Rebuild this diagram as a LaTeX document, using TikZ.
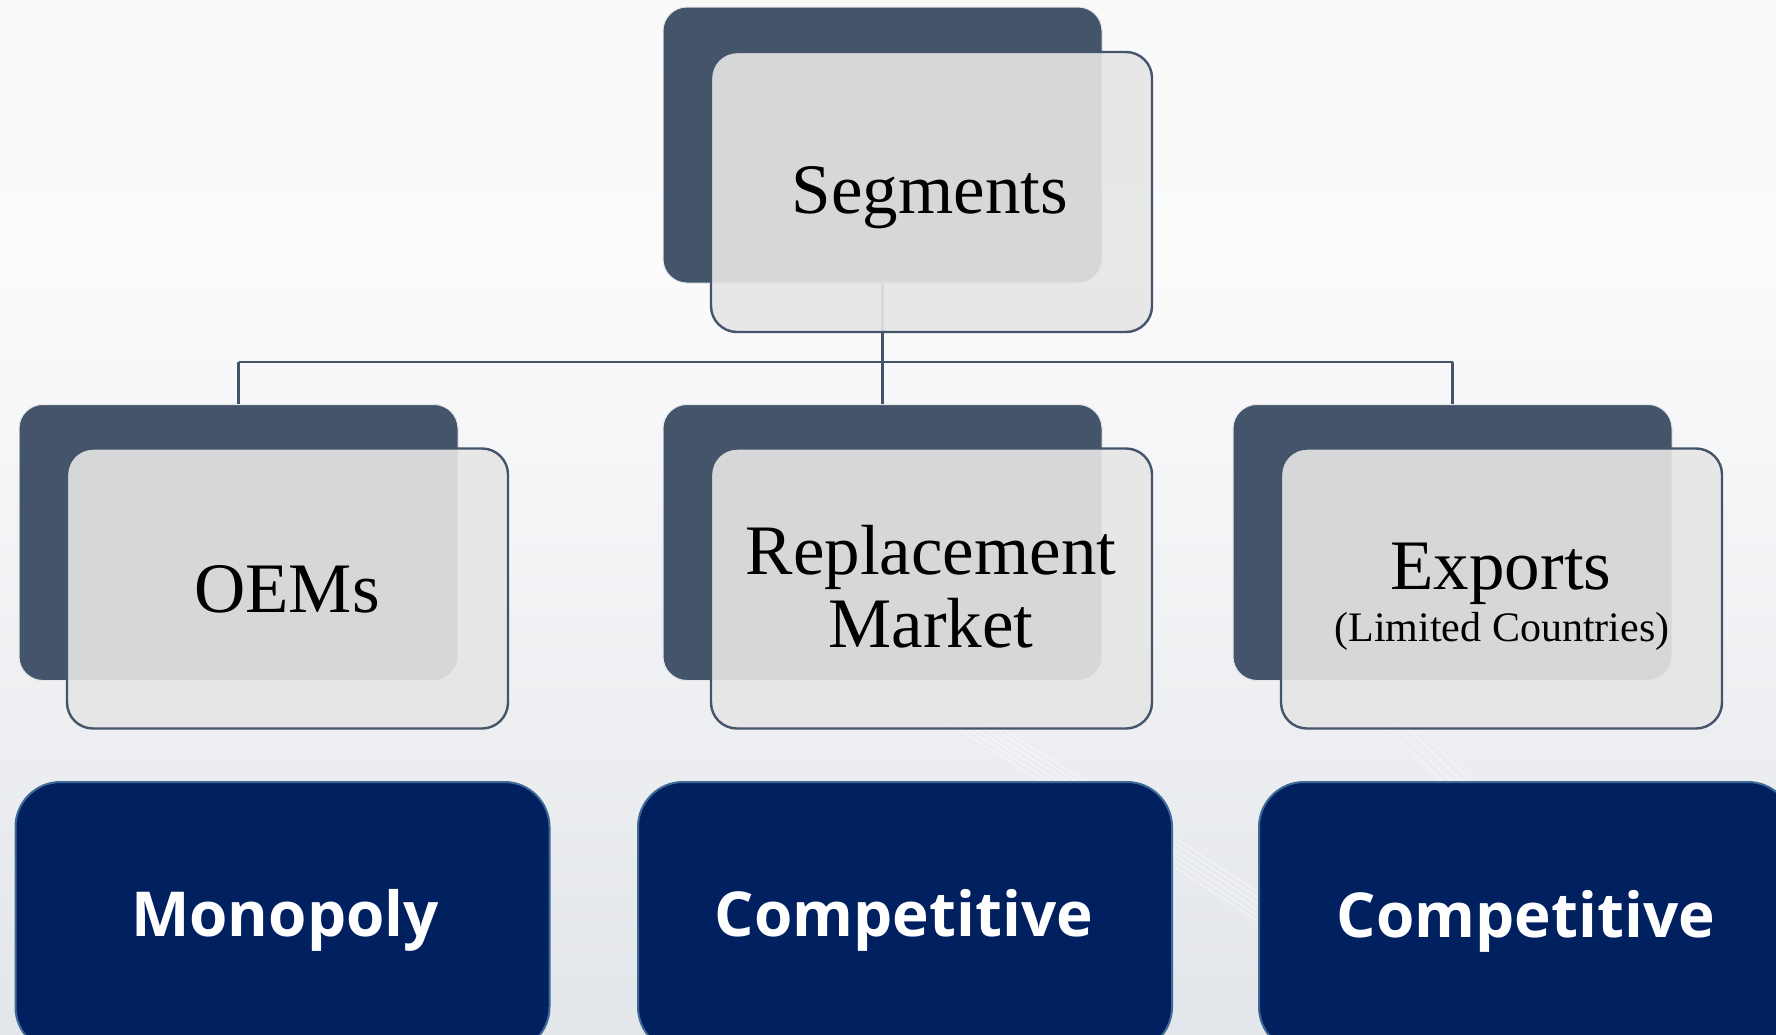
\documentclass[tikz,border=0pt]{standalone}
\usepackage{fontspec}
\setmainfont{Liberation Serif}
\newfontfamily\osans{Open Sans}
\definecolor{slate}{HTML}{44546A}
\definecolor{paleg}{HTML}{E6E6E6}
\definecolor{navy}{HTML}{002060}
\definecolor{navyedge}{HTML}{3E6A97}
\definecolor{bgtop}{HTML}{F5F6F7}
\definecolor{bgmid}{HTML}{FBFBFC}
\definecolor{bglow}{HTML}{E3E6EA}
\definecolor{bgbot}{HTML}{D2D6DC}
\pgfdeclareverticalshading{bgshade}{100bp}{color(0bp)=(bgbot); color(25bp)=(bglow); color(62bp)=(bgmid); color(100bp)=(bgtop)}
\tikzset{
  darkbox/.style={draw=white!85!slate, line width=1pt, fill=slate, rounded corners=24pt,
    minimum width=439pt, minimum height=276pt, inner sep=0pt},
  lightbox/.style={draw=slate, line width=2.4pt, fill=paleg, fill opacity=0.9, rounded corners=26pt,
    minimum width=441pt, minimum height=280pt, inner sep=0pt},
  bluebox/.style={draw=navyedge, line width=2pt, fill=navy, rounded corners=45pt,
    minimum width=534pt, minimum height=270pt, inner sep=0pt},
  serlab/.style={anchor=base, inner sep=0pt, font=\fontsize{71}{80}\selectfont, text=black},
  smalllab/.style={anchor=base, inner sep=0pt, font=\fontsize{42}{48}\selectfont, text=black},
  bluelab/.style={anchor=base, inner sep=0pt, font=\osans\bfseries\fontsize{62}{70}\selectfont, text=white},
  conn/.style={draw=slate, line width=2.6pt},
  streak/.style={draw=white, line width=1.2pt, opacity=0.45},
}
\begin{document}
\begin{tikzpicture}[x=1pt,y=-1pt]
\useasboundingbox (0,0) rectangle (1776,1034);
\shade[shading=bgshade] (0,0) rectangle (1776,1034);
\clip (0,0) rectangle (1776,1034);
% faint background streaks
\foreach \d in {0,9,18,27,36,45} {
  \draw[streak] (700+\d,560) .. controls (900+\d,700) and (1150+\d,840) .. (1420+\d,1034);
}
\foreach \d in {0,10,20,30} {
  \draw[streak] (1300+\d,640) .. controls (1420+\d,760) and (1560+\d,900) .. (1700+\d,1034);
}
% dark back boxes
\node[darkbox] (topD) at (882.5,145) {};
\node[darkbox] (leftD) at (238.5,542.5) {};
\node[darkbox] (midD) at (882.5,542.5) {};
\node[darkbox] (rightD) at (1452.5,542.5) {};
% connectors
\coordinate (bus) at (0,362);
\draw[conn] (topD.south) -- (topD.south |- bus);
\draw[conn] (leftD.north |- bus) -- (rightD.north |- bus);
\draw[conn] (leftD.north |- bus) -- (leftD.north);
\draw[conn] (midD.north |- bus) -- (midD.north);
\draw[conn] (rightD.north |- bus) -- (rightD.north);
% light front boxes
\node[lightbox] (topL) at (931.5,192) {};
\node[lightbox] (leftL) at (287.5,588.5) {};
\node[lightbox] (midL) at (931.5,588.5) {};
\node[lightbox] (rightL) at (1501.5,588.5) {};
% labels
\node[serlab] (segT) at (930,213) {Segments};
\node[serlab] (oemT) at (287,612) {OEMs};
\node[serlab] (repT) at (931,574) {Replacement};
\node[serlab] (mktT) at (931,647) {Market};
\node[serlab] (expT) at (1501,589) {Exports};
\node[smalllab] (limT) at (1502,641) {(Limited Countries)};
% blue boxes
\node[bluebox] (monB) at (282.5,917) {};
\node[bluebox] (comB) at (905,917) {};
\node[bluebox] (cexB) at (1526,917) {};
\node[bluelab] (monT) at (285,936) {Monopoly};
\node[bluelab] (comT) at (904,936) {Competitive};
\node[bluelab] (cexT) at (1526,937) {Competitive};
\end{tikzpicture}
\end{document}
